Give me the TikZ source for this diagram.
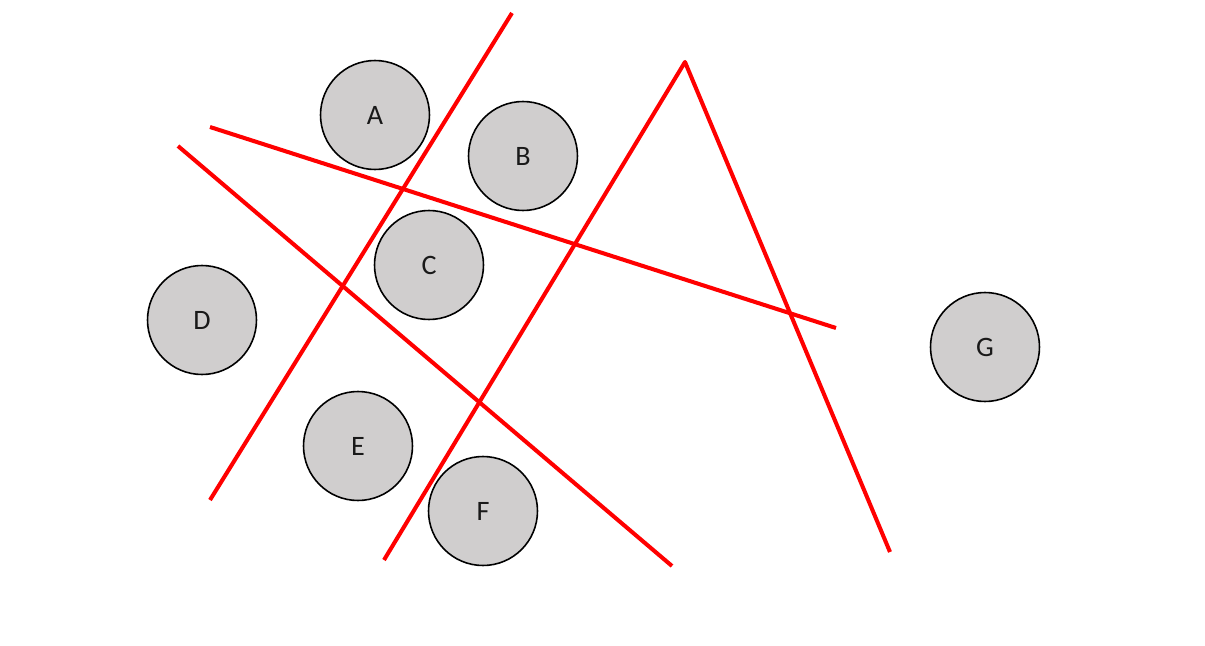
\documentclass[tikz,border=0pt]{standalone}
\usepackage{fontspec}
\setmainfont{Carlito}
\usetikzlibrary{positioning}
\definecolor{ballgrey}{RGB}{208,206,206}
\definecolor{cutred}{RGB}{255,0,0}
\tikzset{
    ball/.style={circle, draw=black, line width=0.9pt, fill=ballgrey,
        minimum size=2.18cm, inner sep=0pt, font=\fontsize{16}{19}\selectfont, text=black!90},
    cut/.style={cutred, line width=2.3pt}
}

\begin{document}
\begin{tikzpicture}[x=0.02cm, y=-0.02cm]
    % Bounding box
    \useasboundingbox (0,0) rectangle (1205,646);

    % Points (balls)
    \node[ball] (A) at (375,115) {A};
    \node[ball] (B) at (523,156) {B};
    \node[ball] (C) at (429,265) {C};
    \node[ball] (D) at (202,320) {D};
    \node[ball] (E) at (358,446) {E};
    \node[ball] (F) at (483,511) {F};
    \node[ball] (G) at (985,347) {G};

    % End points of the cutting lines
    \coordinate (p1) at (512,13);
    \coordinate (q1) at (210,500);
    \coordinate (p2) at (210,127);
    \coordinate (q2) at (836,328);
    \coordinate (p3) at (178,146);
    \coordinate (q3) at (672,566);
    \coordinate (p4) at (384,560);
    \coordinate (top) at (685,62);
    \coordinate (q4) at (890,552);

    % Cutting lines
    \draw[cut] (p1) -- (q1);
    \draw[cut] (p2) -- (q2);
    \draw[cut] (p3) -- (q3);
    \draw[cut, line join=round] (p4) -- (top) -- (q4);
\end{tikzpicture}
\end{document}
